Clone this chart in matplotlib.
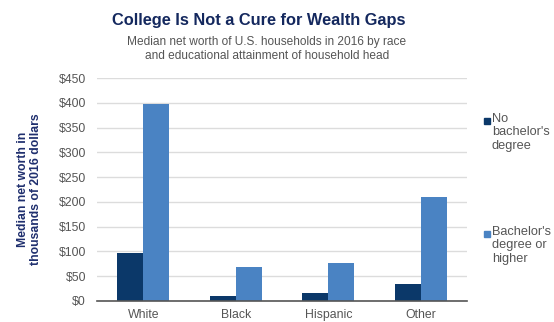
import numpy as np
import matplotlib
matplotlib.use("Agg")
from matplotlib import pyplot as plt

plt.rcParams['font.family'] = ['Liberation Sans', 'DejaVu Sans']

# data (thousands of 2016 dollars)
groups = ['White', 'Black', 'Hispanic', 'Other']
no_degree = [97, 11, 17, 34]
with_degree = [397, 68, 77, 210]
yticks = [0, 50, 100, 150, 200, 250, 300, 350, 400, 450]

navy = '#0b3869'
blue = '#4a83c3'
gray = '#555555'

fig = plt.figure(figsize=(5.54, 3.22), dpi=100)
ax = fig.add_axes([97/554, 1 - 301/322, 370/554, 223/322])

x = np.arange(len(groups))
w = 0.28
ax.bar(x - w/2, no_degree, w, color=navy, zorder=3)
ax.bar(x + w/2, with_degree, w, color=blue, zorder=3)

ax.set_xlim(-0.5, 3.5)
ax.set_ylim(0, 450)
ax.set_yticks(yticks)
ax.set_yticklabels(['$%d' % v for v in yticks])
ax.set_xticks(x)
ax.set_xticklabels(groups)
ax.tick_params(axis='both', length=0, colors=gray, labelsize=8.8)
ax.tick_params(axis='y', pad=8)
ax.tick_params(axis='x', pad=6)
ax.grid(axis='y', color='#dcdcdc', linewidth=1, zorder=0)
for s in ['top', 'right', 'left']:
    ax.spines[s].set_visible(False)
ax.spines['bottom'].set_color('#555555')
ax.spines['bottom'].set_linewidth(1.2)
ax.spines['bottom'].set_zorder(4)

ax.set_ylabel('Median net worth in\nthousands of 2016 dollars', color='#1f2f6e',
              fontsize=8.8, fontweight='bold', labelpad=12, linespacing=1.1)

fig.text(259/554, 1 - 20/322, 'College Is Not a Cure for Wealth Gaps', ha='center', va='center',
         fontsize=11.8, fontweight='bold', color='#14285e')
fig.text(267/554, 1 - 49/322, 'Median net worth of U.S. households in 2016 by race\nand educational attainment of household head',
         ha='center', va='center', fontsize=8.6, color=gray, linespacing=1.15)

# legend
fig.patches.append(plt.Rectangle((484/554, 1 - 124/322), 6/554, 6/322, transform=fig.transFigure,
                                 color=navy, figure=fig))
fig.text(492/554, 1 - 113/322, "No\nbachelor's\ndegree", ha='left', va='top',
         fontsize=9.2, color=gray, linespacing=1.15)
fig.patches.append(plt.Rectangle((484/554, 1 - 237/322), 6/554, 6/322, transform=fig.transFigure,
                                 color=blue, figure=fig))
fig.text(492/554, 1 - 226/322, "Bachelor's\ndegree or\nhigher", ha='left', va='top',
         fontsize=9.2, color=gray, linespacing=1.15)

fig.savefig('out.png', dpi=100)
